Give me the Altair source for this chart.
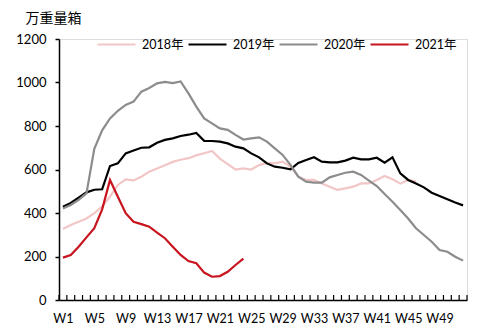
import altair as alt
import pandas as pd

weeks = list(range(1, 53))
series_names = ["2018年", "2019年", "2020年", "2021年"]
series_colors = ["#F2C6C6", "#000000", "#8C8C8C", "#C8141E"]

v2018 = [326, 345, 360, 375, 399, 429, 475, 529, 555, 550, 567, 590, 605, 620, 635, 645,
         652, 665, 675, 685, 650, 625, 600, 605, 600, 620, 630, 628, 636, 613, 567, 552,
         552, 536, 521, 506, 513, 521, 536, 536, 552, 570, 555, 535, 552, 545]
v2019 = [429, 446, 470, 495, 507, 509, 616, 628, 674, 687, 700, 702, 723, 736, 743, 754,
         760, 768, 732, 731, 728, 720, 705, 697, 674, 656, 628, 613, 608, 601, 630, 644,
         656, 636, 633, 633, 641, 654, 647, 647, 654, 631, 656, 582, 552, 536, 518, 493,
         478, 463, 448, 435]
v2020 = [421, 437, 460, 490, 695, 780, 835, 870, 897, 912, 958, 975, 996, 1003, 997, 1005,
         950, 889, 835, 812, 789, 782, 759, 738, 743, 748, 728, 697, 667, 621, 567, 544,
         540, 540, 564, 575, 585, 590, 575, 549, 524, 487, 452, 414, 375, 330, 299, 268,
         230, 222, 199, 181]
v2021 = [195, 207, 245, 288, 330, 417, 552, 475, 399, 360, 349, 337, 310, 284, 245, 207,
         179, 169, 126, 107, 110, 130, 161, 190]

y_ticks = [0, 200, 400, 600, 800, 1000, 1200]
x_label_weeks = [1, 5, 9, 13, 17, 21, 25, 29, 33, 37, 41, 45, 49]

rows = []
for name, vals in zip(series_names, [v2018, v2019, v2020, v2021]):
    for w, v in zip(weeks, vals):
        rows.append({"wk": w, "value": v, "series": name})
df = pd.DataFrame(rows)

bounds = pd.DataFrame({"b": [w - 0.5 for w in weeks] + [weeks[-1] + 0.5]})

FONT = "Lato, Noto Sans CJK SC"
W, H = 408, 261

xscale = alt.Scale(domain=[0.5, 52.5], nice=False, zero=False)
xaxis = alt.Axis(values=x_label_weeks, labelExpr="'W' + datum.value", ticks=False,
                 domain=True, domainColor="#000000", domainWidth=1.5, grid=False,
                 title=None, labelFont=FONT, labelFontSize=12.5, labelColor="#000000",
                 labelPadding=12, labelOverlap=False, labelFlush=False, labelBound=False)

lines = alt.Chart(df).mark_line(strokeWidth=2.2, interpolate="linear").encode(
    x=alt.X("wk:Q", scale=xscale, axis=xaxis),
    y=alt.Y("value:Q", scale=alt.Scale(domain=[0, 1200], nice=False),
            axis=alt.Axis(values=y_ticks, format="d", grid=False, domainColor="#000000",
                          domainWidth=1.5, tickColor="#000000", tickSize=4, tickWidth=1.5,
                          labelFont=FONT, labelFontSize=13, labelColor="#000000",
                          labelPadding=9, title="万重量箱", titleAngle=0, titleAlign="left",
                          titleX=-34, titleY=-21, titleBaseline="middle", titleFont=FONT,
                          titleFontSize=14, titleFontWeight="normal", titleColor="#000000")),
    color=alt.Color("series:N", scale=alt.Scale(domain=series_names, range=series_colors),
                    legend=alt.Legend(orient="none", legendX=37, legendY=-15,
                                      direction="horizontal", title=None,
                                      symbolType="stroke", symbolSize=1444,
                                      symbolStrokeWidth=2.2, labelFont=FONT,
                                      labelFontSize=12.5, labelColor="#000000",
                                      labelOffset=5, columnPadding=0)),
    order=alt.Order("wk:Q"),
)

ticks = alt.Chart(bounds).mark_rule(color="#000000", strokeWidth=1.2).encode(
    x=alt.X("b:Q", scale=xscale, axis=xaxis),
    y=alt.value(H - 5),
    y2=alt.value(H),
)

chart = alt.layer(lines, ticks).properties(
    width=W, height=H,
    autosize=alt.AutoSizeParams(type="none"),
    padding={"left": 59, "top": 39, "right": 31, "bottom": 29},
).configure_view(stroke=None).configure(background="#ffffff")

chart.save("out.html", embed_options={"renderer": "svg", "actions": False})
